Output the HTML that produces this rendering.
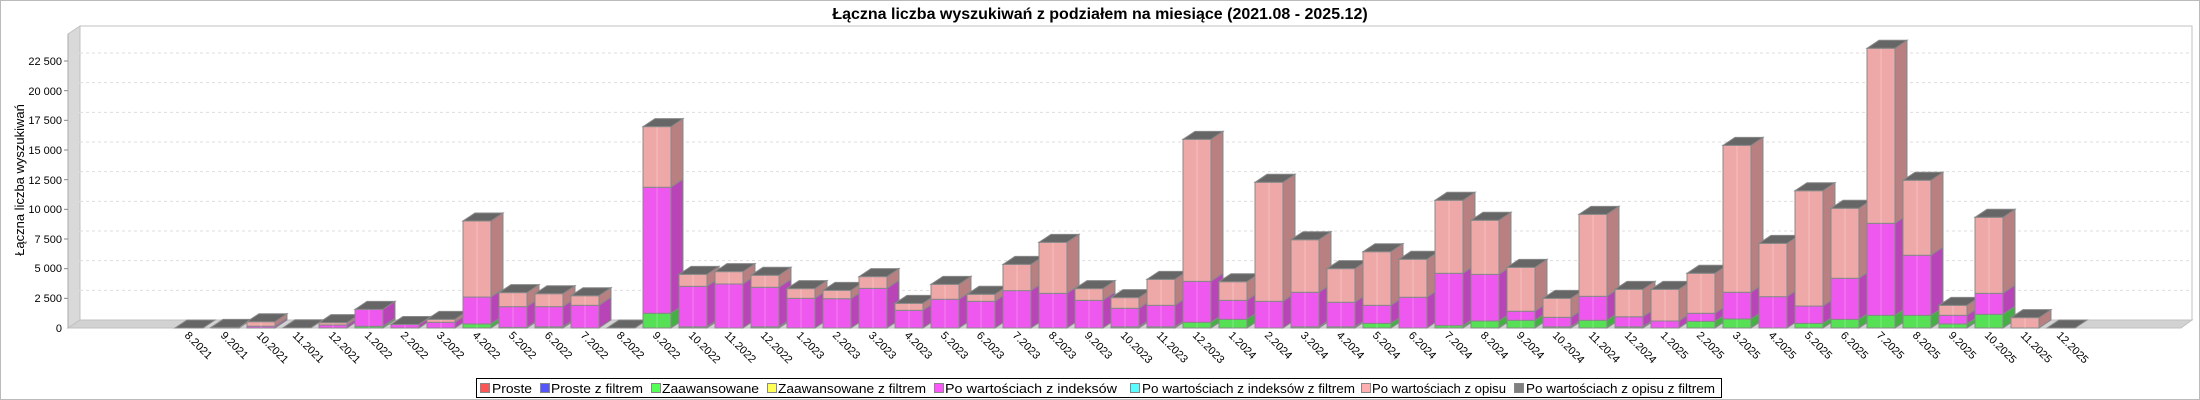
<!DOCTYPE html>
<html><head><meta charset="utf-8"><style>
html,body{margin:0;padding:0;background:#fff}
svg{display:block}
text{font-family:"Liberation Sans","DejaVu Sans",sans-serif}
</style></head><body>
<svg id="s" width="2200" height="400" viewBox="0 0 2200 400" xmlns="http://www.w3.org/2000/svg">
<rect x="0.5" y="0.5" width="2199" height="399" fill="#fff" stroke="#bbb"/>
<text x="1100" y="19" text-anchor="middle" font-size="16" font-weight="bold" fill="#000">Łączna liczba wyszukiwań z podziałem na miesiące (2021.08 - 2025.12)</text>
<!-- walls -->
<polygon points="68,34 80,26 80,320 68,328" fill="#d9d9d9" stroke="#c0c0c0"/>
<rect x="80" y="26" width="2112" height="294" fill="#fff" stroke="#c0c0c0"/>
<polygon points="68,328 80,320 2192,320 2181,328" fill="#d2d2d2" stroke="#c0c0c0"/>
<g id="grid" stroke="#ddd" stroke-dasharray="3,3" fill="none"></g>
<line x1="68" y1="34" x2="68" y2="328" stroke="#aaa"/>
<g font-size="11" fill="#000" text-anchor="end">
<text x="62" y="332">0</text>
<text x="62" y="302">2 500</text>
<text x="62" y="272">5 000</text>
<text x="62" y="243">7 500</text>
<text x="62" y="213">10 000</text>
<text x="62" y="184">12 500</text>
<text x="62" y="154">15 000</text>
<text x="62" y="124">17 500</text>
<text x="62" y="95">20 000</text>
<text x="62" y="65">22 500</text>
</g>
<text transform="translate(24,180) rotate(-90)" text-anchor="middle" font-size="13" fill="#000">Łączna liczba wyszukiwań</text>
<g id="bars"></g>
<g id="xl" font-size="11" fill="#000">
<text transform="translate(184,336) rotate(45)">8.2021</text>
<text transform="translate(220,336) rotate(45)">9.2021</text>
<text transform="translate(256,336) rotate(45)">10.2021</text>
<text transform="translate(292,336) rotate(45)">11.2021</text>
<text transform="translate(328,336) rotate(45)">12.2021</text>
<text transform="translate(364,336) rotate(45)">1.2022</text>
<text transform="translate(400,336) rotate(45)">2.2022</text>
<text transform="translate(436,336) rotate(45)">3.2022</text>
<text transform="translate(472,336) rotate(45)">4.2022</text>
<text transform="translate(508,336) rotate(45)">5.2022</text>
<text transform="translate(544,336) rotate(45)">6.2022</text>
<text transform="translate(580,336) rotate(45)">7.2022</text>
<text transform="translate(616,336) rotate(45)">8.2022</text>
<text transform="translate(652,336) rotate(45)">9.2022</text>
<text transform="translate(688,336) rotate(45)">10.2022</text>
<text transform="translate(724,336) rotate(45)">11.2022</text>
<text transform="translate(760,336) rotate(45)">12.2022</text>
<text transform="translate(796,336) rotate(45)">1.2023</text>
<text transform="translate(832,336) rotate(45)">2.2023</text>
<text transform="translate(868,336) rotate(45)">3.2023</text>
<text transform="translate(904,336) rotate(45)">4.2023</text>
<text transform="translate(940,336) rotate(45)">5.2023</text>
<text transform="translate(976,336) rotate(45)">6.2023</text>
<text transform="translate(1012,336) rotate(45)">7.2023</text>
<text transform="translate(1048,336) rotate(45)">8.2023</text>
<text transform="translate(1084,336) rotate(45)">9.2023</text>
<text transform="translate(1120,336) rotate(45)">10.2023</text>
<text transform="translate(1156,336) rotate(45)">11.2023</text>
<text transform="translate(1192,336) rotate(45)">12.2023</text>
<text transform="translate(1228,336) rotate(45)">1.2024</text>
<text transform="translate(1264,336) rotate(45)">2.2024</text>
<text transform="translate(1300,336) rotate(45)">3.2024</text>
<text transform="translate(1336,336) rotate(45)">4.2024</text>
<text transform="translate(1372,336) rotate(45)">5.2024</text>
<text transform="translate(1408,336) rotate(45)">6.2024</text>
<text transform="translate(1444,336) rotate(45)">7.2024</text>
<text transform="translate(1480,336) rotate(45)">8.2024</text>
<text transform="translate(1516,336) rotate(45)">9.2024</text>
<text transform="translate(1552,336) rotate(45)">10.2024</text>
<text transform="translate(1588,336) rotate(45)">11.2024</text>
<text transform="translate(1624,336) rotate(45)">12.2024</text>
<text transform="translate(1660,336) rotate(45)">1.2025</text>
<text transform="translate(1696,336) rotate(45)">2.2025</text>
<text transform="translate(1732,336) rotate(45)">3.2025</text>
<text transform="translate(1768,336) rotate(45)">4.2025</text>
<text transform="translate(1804,336) rotate(45)">5.2025</text>
<text transform="translate(1840,336) rotate(45)">6.2025</text>
<text transform="translate(1876,336) rotate(45)">7.2025</text>
<text transform="translate(1912,336) rotate(45)">8.2025</text>
<text transform="translate(1948,336) rotate(45)">9.2025</text>
<text transform="translate(1984,336) rotate(45)">10.2025</text>
<text transform="translate(2020,336) rotate(45)">11.2025</text>
<text transform="translate(2056,336) rotate(45)">12.2025</text>
</g>
<!-- legend -->
<rect x="476.5" y="378.5" width="1245" height="19" fill="#fff" stroke="#000"/>
<g stroke="#888" stroke-width="1">
<rect x="480.5" y="383.5" width="9" height="9" fill="#ff5555"/>
<rect x="540.5" y="383.5" width="9" height="9" fill="#5555ff"/>
<rect x="651.5" y="383.5" width="9" height="9" fill="#55ff55"/>
<rect x="767.5" y="383.5" width="9" height="9" fill="#ffff55"/>
<rect x="934.5" y="383.5" width="9" height="9" fill="#ff55ff"/>
<rect x="1130.5" y="383.5" width="9" height="9" fill="#55ffff"/>
<rect x="1361.5" y="383.5" width="9" height="9" fill="#ffafaf"/>
<rect x="1514.5" y="383.5" width="9" height="9" fill="#808080"/>
</g>
<g font-size="13" fill="#000">
<text x="492" y="393" textLength="40" lengthAdjust="spacingAndGlyphs">Proste</text>
<text x="551" y="393" textLength="92" lengthAdjust="spacingAndGlyphs">Proste z filtrem</text>
<text x="662" y="393" textLength="97" lengthAdjust="spacingAndGlyphs">Zaawansowane</text>
<text x="778" y="393" textLength="148" lengthAdjust="spacingAndGlyphs">Zaawansowane z filtrem</text>
<text x="945" y="393" textLength="172" lengthAdjust="spacingAndGlyphs">Po wartościach z indeksów</text>
<text x="1142" y="393" textLength="213" lengthAdjust="spacingAndGlyphs">Po wartościach z indeksów z filtrem</text>
<text x="1372" y="393" textLength="134" lengthAdjust="spacingAndGlyphs">Po wartościach z opisu</text>
<text x="1526" y="393" textLength="189" lengthAdjust="spacingAndGlyphs">Po wartościach z opisu z filtrem</text>
</g>
</svg>
<script>
(function(){
var NS="http://www.w3.org/2000/svg";
function el(p,t,a){var e=document.createElementNS(NS,t);for(var k in a)e.setAttribute(k,a[k]);p.appendChild(e);return e;}
var K=0.011867, B=328;
var g=document.getElementById('grid');
for(var v=2500;v<=22500;v+=2500){var yb=320-v*K;
 el(g,'line',{x1:80,y1:yb,x2:2192,y2:yb});
 el(g,'line',{x1:68,y1:yb+8,x2:80,y2:yb});
 el(document.getElementById('s'),'line',{x1:64,y1:B-v*K,x2:68,y2:B-v*K,stroke:'#888'});
}
var d=[[0,0,0],[0,0,0.05],[0,0.15,0.53],[0,0,0.02],[0,0.25,0.45],[0.14,1.57,1.57],[0,0.3,0.3],[0,0.48,0.73],[0.34,2.61,9.02],[0.05,1.8,2.98],[0.1,1.8,2.89],[0,1.91,2.72],[0,0,0],[1.24,11.86,16.97],[0.1,3.51,4.52],[0,3.71,4.75],[0.1,3.43,4.44],[0,2.5,3.32],[0,2.47,3.17],[0,3.34,4.33],[0,1.49,2.08],[0,2.42,3.68],[0,2.25,2.84],[0,3.15,5.36],[0,2.92,7.22],[0,2.33,3.32],[0.1,1.66,2.56],[0.1,1.91,4.1],[0.48,3.93,15.9],[0.73,2.33,3.9],[0,2.25,12.28],[0.1,3.01,7.44],[0.1,2.17,5.0],[0.39,1.91,6.43],[0,2.59,5.79],[0.2,4.61,10.76],[0.59,4.52,9.08],[0.65,1.41,5.11],[0.1,0.9,2.5],[0.65,2.67,9.58],[0.1,0.95,3.26],[0,0.59,3.26],[0.56,1.24,4.61],[0.76,3.01,15.39],[0,2.64,7.13],[0.39,1.85,11.57],[0.73,4.19,10.09],[1.07,8.82,23.57],[1.07,6.13,12.45],[0.34,1.07,1.91],[1.15,2.92,9.33],[0,0,0.87],[0,0,0]];
var bg=document.getElementById('bars');
var cols=[['#55e055','#44b044'],['#ee58ee','#b844b8'],['#efa8a8','#b88080']];
for(var i=0;i<d.length;i++){
 var x=175+36*i, w=28, dx=12, dy=8;
 var lv=[0,d[i][0]*1000,d[i][1]*1000,d[i][2]*1000];
 for(var s=0;s<3;s++){
  var y0=B-lv[s]*K, y1=B-lv[s+1]*K;
  if(y0-y1<0.3)continue;
  el(bg,'polygon',{points:(x+w)+','+y0+' '+(x+w)+','+y1+' '+(x+w+dx)+','+(y1-dy)+' '+(x+w+dx)+','+(y0-dy),fill:cols[s][1],stroke:'#888','stroke-width':1});
  el(bg,'rect',{x:x,y:y1,width:w,height:y0-y1,fill:cols[s][0],stroke:'#888','stroke-width':1});
  el(bg,'line',{x1:x+14,y1:y1,x2:x+14,y2:y0,stroke:'rgba(255,255,255,0.25)'});
 }
 var yt=B-lv[3]*K;
 el(bg,'polygon',{points:x+','+yt+' '+(x+dx)+','+(yt-dy)+' '+(x+w+dx)+','+(yt-dy)+' '+(x+w)+','+yt,fill:'#666',stroke:'#888','stroke-width':1});
}
})();
</script>
</body></html>
